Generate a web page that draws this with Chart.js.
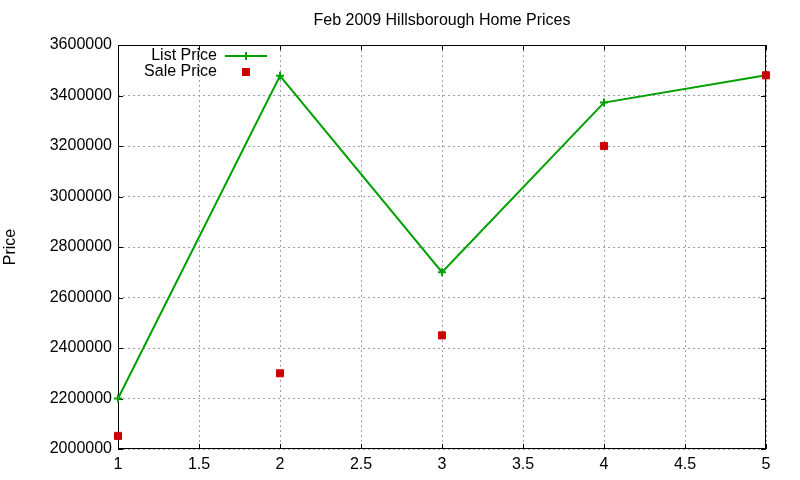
<!DOCTYPE html>
<html>
<head>
<meta charset="utf-8">
<script src="https://cdn.jsdelivr.net/npm/chart.js@4"></script>
<style>
  html, body { margin: 0; padding: 0; background: #fff; }
  #wrap { width: 800px; height: 480px; }
</style>
</head>
<body>
<div id="wrap"><canvas id="myChart"></canvas></div>
<script>
const months = [1, 2, 3, 4, 5];
const listPrice = [2200000, 3478000, 2700000, 3372000, 3480000];
const salePrice = [2052000, 2300000, 2450000, 3200000, 3480000];
const xTicks = [1, 1.5, 2, 2.5, 3, 3.5, 4, 4.5, 5];
const yTicks = [2000000, 2200000, 2400000, 2600000, 2800000, 3000000, 3200000, 3400000, 3600000];

const FONT = 'Liberation Sans, Arial, sans-serif';
const GREEN = '#00a000';
const RED = '#cc0000';

// gnuplot-ish frame: box, inward ticks, title and key
const gnuFrame = {
  id: 'gnuFrame',
  beforeDatasetsDraw(chart) {
    const c = chart.ctx, a = chart.chartArea;
    const xs = chart.scales.x, ys = chart.scales.y;
    c.save();
    c.strokeStyle = '#000';
    c.lineWidth = 1;
    c.strokeRect(a.left + 0.5, a.top + 0.5, a.right - a.left - 1, a.bottom - a.top - 1);
    c.beginPath();
    xTicks.forEach(v => {
      const px = Math.round(xs.getPixelForValue(v)) + 0.5;
      c.moveTo(px, a.bottom); c.lineTo(px, a.bottom - 5);
      c.moveTo(px, a.top); c.lineTo(px, a.top + 5);
    });
    yTicks.forEach(v => {
      const py = Math.round(ys.getPixelForValue(v)) + 0.5;
      c.moveTo(a.left, py); c.lineTo(a.left + 5, py);
      c.moveTo(a.right, py); c.lineTo(a.right - 5, py);
    });
    c.stroke();
    c.restore();
  },
  afterDraw(chart) {
    const c = chart.ctx, a = chart.chartArea;
    c.save();
    c.fillStyle = '#000';
    c.font = '16px ' + FONT;
    c.textAlign = 'center';
    c.textBaseline = 'middle';
    c.fillText('Feb 2009 Hillsborough Home Prices', (a.left + a.right) / 2, 21);

    // key
    c.textAlign = 'right';
    c.fillText('List Price', 217, 56);
    c.fillText('Sale Price', 217, 72);
    c.strokeStyle = GREEN;
    c.lineWidth = 2;
    c.beginPath();
    c.moveTo(225, 56); c.lineTo(267, 56);
    c.moveTo(246, 52); c.lineTo(246, 60);
    c.stroke();
    c.fillStyle = RED;
    c.fillRect(242, 68, 8, 8);
    c.restore();
  }
};

new Chart(document.getElementById('myChart'), {
  type: 'line',
  data: {
    datasets: [
      {
        label: 'List Price',
        data: months.map((m, i) => ({ x: m, y: listPrice[i] })),
        borderColor: GREEN,
        backgroundColor: GREEN,
        borderWidth: 2,
        pointStyle: 'cross',
        pointRadius: 4,
        pointBorderWidth: 2,
        tension: 0,
        clip: false,
        order: 1
      },
      {
        label: 'Sale Price',
        data: months.map((m, i) => ({ x: m, y: salePrice[i] })),
        showLine: false,
        borderColor: RED,
        backgroundColor: RED,
        pointStyle: 'rect',
        pointRadius: 5,
        pointBorderWidth: 1,
        clip: false,
        order: 0
      }
    ]
  },
  options: {
    responsive: true,
    maintainAspectRatio: false,
    animation: false,
    layout: { padding: { top: 45, right: 34, left: 0, bottom: 0 } },
    plugins: {
      legend: { display: false },
      title: { display: false },
      tooltip: { enabled: false }
    },
    scales: {
      x: {
        type: 'linear',
        min: 1,
        max: 5,
        afterBuildTicks: s => { s.ticks = xTicks.map(v => ({ value: v })); },
        afterFit: s => { s.height = 31; },
        ticks: { color: '#000', font: { family: FONT, size: 16 }, padding: 6, maxRotation: 0, callback: v => String(v) },
        grid: { color: '#a0a0a0', drawTicks: false, lineWidth: 1 },
        border: { display: false, dash: [2, 3] }
      },
      y: {
        min: 2000000,
        max: 3600000,
        afterBuildTicks: s => { s.ticks = yTicks.map(v => ({ value: v })); },
        afterFit: s => { s.width = 118; },
        ticks: { color: '#000', font: { family: FONT, size: 16 }, padding: 6, callback: v => String(v) },
        grid: { color: '#a0a0a0', drawTicks: false, lineWidth: 1 },
        border: { display: false, dash: [2, 3] },
        title: { display: true, text: 'Price', color: '#000', font: { family: FONT, size: 16 }, padding: { top: 1, bottom: 0 } }
      }
    }
  },
  plugins: [gnuFrame]
});
</script>
</body>
</html>
